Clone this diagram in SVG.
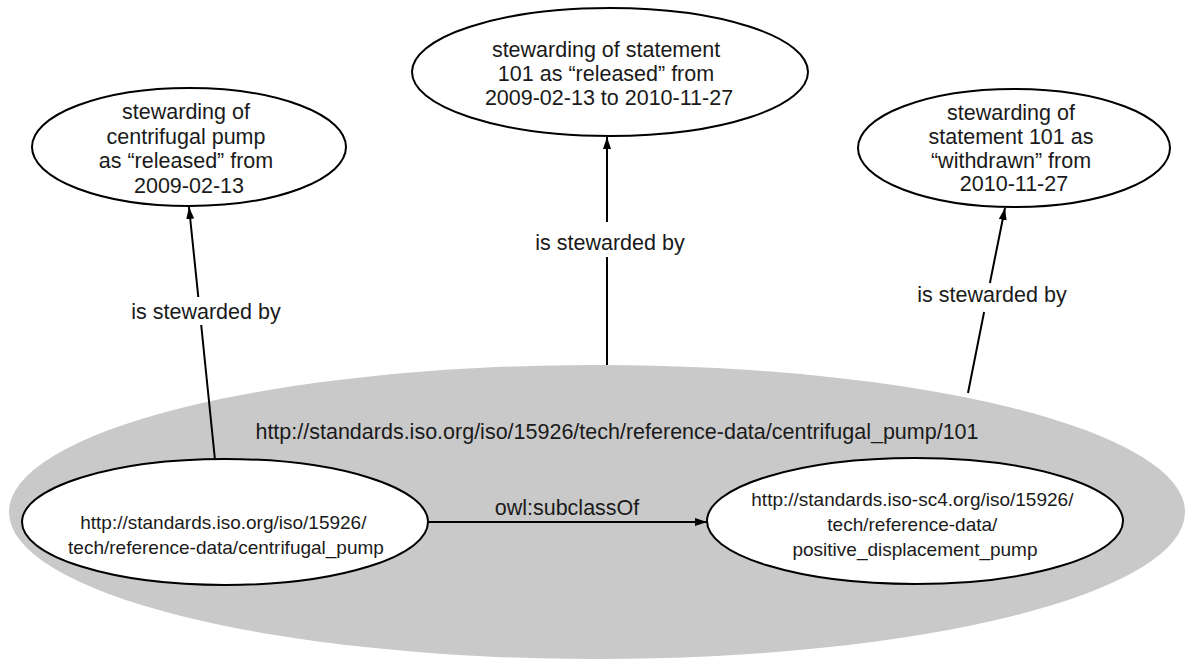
<svg xmlns="http://www.w3.org/2000/svg" width="1187" height="662" viewBox="0 0 1187 662">
  <style>
    .node { fill: #ffffff; stroke: #000000; stroke-width: 2; }
    .scope { fill: #c9c9c9; stroke: none; }
    .edge { fill: none; stroke: #000000; stroke-width: 2; }
    text { font-family: "Liberation Sans", Arial, sans-serif; fill: #1a1a1a; text-anchor: middle; }
    .t { font-size: 21.5px; }
    .s { font-size: 19px; }
  </style>
  <defs>
    <marker id="arrow" markerUnits="userSpaceOnUse" markerWidth="13" markerHeight="9" refX="12" refY="4" orient="auto">
      <path d="M0,0 L12,4 L0,8 z" fill="#000000"/>
    </marker>
  </defs>

  <!-- statement 101 scope -->
  <g id="statement-101">
    <ellipse class="scope" cx="597" cy="512" rx="588" ry="147"/>
    <text class="t" x="617" y="439">http://standards.iso.org/iso/15926/tech/reference-data/centrifugal_pump/101</text>
  </g>

  <!-- connectors -->
  <g id="connectors">
    <path class="edge" d="M215,460 L201.2,325 M198.3,297 L189,207" marker-end="url(#arrow)"/>
    <text class="t" x="206" y="319">is stewarded by</text>
    <path class="edge" d="M607,365 L607,257 M607,222 L607,137" marker-end="url(#arrow)"/>
    <text class="t" x="610" y="250">is stewarded by</text>
    <path class="edge" d="M968,393 L984.1,312 M989.9,283 L1005,208" marker-end="url(#arrow)"/>
    <text class="t" x="992" y="302">is stewarded by</text>
    <path class="edge" d="M428,522 L707,522" marker-end="url(#arrow)"/>
    <text class="t" x="567" y="515">owl:subclassOf</text>
  </g>

  <g id="stewarding-pump-released">
    <ellipse class="node" cx="189" cy="147" rx="157" ry="59"/>
    <text class="t">
      <tspan x="189" y="119">stewarding of</tspan>
      <tspan x="189" y="143.5">centrifugal pump</tspan>
      <tspan x="189" y="168">as “released” from</tspan>
      <tspan x="189" y="192.5">2009-02-13</tspan>
    </text>
  </g>

  <g id="stewarding-statement-released">
    <ellipse class="node" cx="610" cy="72" rx="198" ry="64"/>
    <text class="t">
      <tspan x="609" y="57">stewarding of statement</tspan>
      <tspan x="609" y="81">101 as “released” from</tspan>
      <tspan x="609" y="105">2009-02-13 to 2010-11-27</tspan>
    </text>
  </g>

  <g id="stewarding-statement-withdrawn">
    <ellipse class="node" cx="1014" cy="148" rx="156" ry="59"/>
    <text class="t">
      <tspan x="1014" y="120">stewarding of</tspan>
      <tspan x="1014" y="144">statement 101 as</tspan>
      <tspan x="1014" y="168">“withdrawn” from</tspan>
      <tspan x="1014" y="191">2010-11-27</tspan>
    </text>
  </g>

  <g id="centrifugal-pump">
    <ellipse class="node" cx="225" cy="522" rx="203" ry="63"/>
    <text class="s">
      <tspan x="226" y="529">http://standards.iso.org/iso/15926/</tspan>
      <tspan x="226" y="554">tech/reference-data/centrifugal_pump</tspan>
    </text>
  </g>

  <g id="positive-displacement-pump">
    <ellipse class="node" cx="915" cy="521" rx="208" ry="63"/>
    <text class="s">
      <tspan x="915" y="506">http://standards.iso-sc4.org/iso/15926/</tspan>
      <tspan x="915" y="531">tech/reference-data/</tspan>
      <tspan x="915" y="556">positive_displacement_pump</tspan>
    </text>
  </g>
</svg>
